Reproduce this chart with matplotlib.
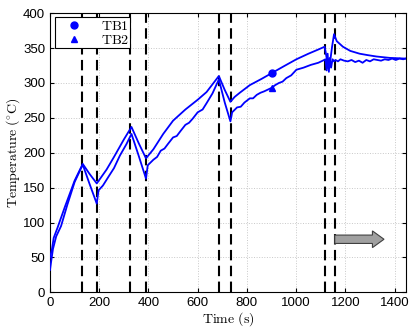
import matplotlib
matplotlib.use("Agg")
import matplotlib.pyplot as plt
from matplotlib.lines import Line2D
from matplotlib.patches import FancyArrow

plt.rcParams['mathtext.fontset'] = 'cm'
plt.rcParams['font.family'] = ['Liberation Sans', 'DejaVu Sans']

# TB1 thermocouple (upper curve later on)
t1 = [0, 8, 15, 30, 60, 100, 133, 160, 190, 200, 230, 260, 300, 331, 360, 390,
      420, 460, 500, 550, 600, 636, 686, 710, 733, 750, 771, 812, 860, 900, 950,
      1001, 1050, 1090, 1116, 1122, 1130, 1138, 1146, 1154, 1165, 1190, 1220,
      1258, 1290, 1326, 1380, 1445]
T1 = [50, 62, 78, 92, 122, 160, 184, 170, 156, 161, 176, 194, 219, 237, 214, 192,
      205, 227, 246, 262, 276, 287, 310, 290, 273, 280, 286, 297, 306, 314, 324,
      334, 342, 348, 352, 340, 322, 330, 352, 370, 360, 352, 346,
      342, 340, 338, 336, 335]

# TB2 thermocouple
t2 = [0, 5, 12, 25, 45, 70, 100, 133, 160, 190, 197, 215, 240, 260, 284, 310, 331,
      360, 390, 397, 420, 435, 450, 465, 480, 500, 515, 530, 550, 565, 580, 600,
      620, 636, 660, 686, 710, 733, 740, 760, 775, 790, 812, 825, 840, 855, 870,
      900, 915, 930, 945, 960, 980, 1001, 1030, 1060, 1090,
      1108, 1119, 1124, 1128, 1133, 1137, 1142, 1148, 1154, 1160, 1170, 1180,
      1195, 1210, 1225, 1240, 1255, 1270, 1285, 1300, 1315, 1330, 1345, 1360,
      1375, 1390, 1405, 1420, 1435, 1445]
T2 = [32, 45, 62, 80, 95, 125, 158, 183, 156, 127, 146, 153, 167, 178, 196, 212, 227,
      196, 163, 182, 190, 194, 203, 206, 213, 222, 224, 231, 240, 243, 249, 258,
      262, 271, 285, 305, 272, 245, 258, 265, 266, 272, 278, 278, 283, 286, 288,
      293, 297, 300, 302, 307, 311, 319, 322, 326, 329,
      332, 334, 318, 342, 316, 336, 322, 334, 331, 333, 331, 334,
      332, 331, 333, 330, 332, 329, 333, 331, 334, 333, 332, 334,
      333, 335, 333, 335, 334, 335]

# switching instants (dashed lines)
events = [130, 191, 325, 390, 686, 735, 1119, 1157]

# marker positions
mark_t = 900
mark_T1 = 314
mark_T2 = 293.5

fig = plt.figure(figsize=(4.15, 3.31), dpi=100)
ax = fig.add_axes([0.1205, 0.117, 0.857, 0.843])

for e in events:
    ax.axvline(e, color='k', lw=1.5, dashes=(5.0, 2.6), zorder=3)

ax.plot(t1, T1, color='b', lw=1.3, zorder=4)
ax.plot(t2, T2, color='b', lw=1.3, zorder=4)
ax.plot([mark_t], [mark_T1], 'o', color='b', ms=5, zorder=5)
ax.plot([mark_t], [mark_T2], '^', color='b', ms=5, zorder=5)

arrow = FancyArrow(1157, 76, 200, 0, width=12, head_width=24, head_length=47,
                   length_includes_head=True, fc='#a0a0a0', ec='#404040', lw=0.8,
                   zorder=6)
ax.add_patch(arrow)

ax.set_xlim(0, 1445)
ax.set_ylim(0, 400)
ax.set_xticks(range(0, 1401, 200))
ax.set_yticks(range(0, 401, 50))
ax.tick_params(direction='in', top=True, right=True, labelsize=9.5, length=3)
ax.grid(True, linestyle=':', color='#c8c8c8', lw=0.7)
for s in ax.spines.values():
    s.set_linewidth(0.8)

ax.set_xlabel(r'$\mathrm{Time\ (s)}$', fontsize=10, labelpad=1)
ax.set_ylabel(r'$\mathrm{Temperature\ (^{\circ}C)}$', fontsize=10, labelpad=1)

handles = [Line2D([], [], ls='none', marker='o', color='b', ms=5),
           Line2D([], [], ls='none', marker='^', color='b', ms=5)]
leg = ax.legend(handles, [r'$\mathrm{TB1}$', r'$\mathrm{TB2}$'], loc='upper left',
                bbox_to_anchor=(0.014, 0.986), fancybox=False, edgecolor='k',
                framealpha=1, fontsize=10, borderaxespad=0.0, borderpad=0.1,
                labelspacing=0.0, handletextpad=0.6, handlelength=2.6)
leg.get_frame().set_linewidth(0.8)

fig.savefig('out.png', dpi=100)
